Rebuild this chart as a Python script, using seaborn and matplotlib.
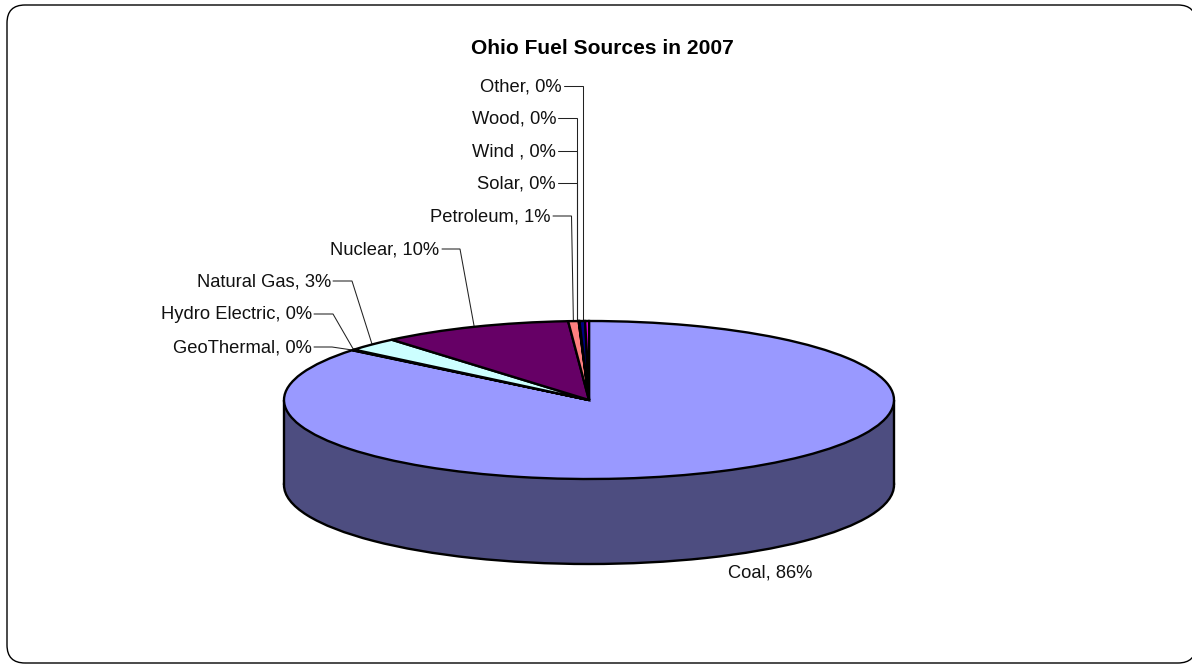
import numpy as np
import matplotlib
matplotlib.use("Agg")
import matplotlib.pyplot as plt
from matplotlib.patches import FancyBboxPatch, PathPatch, Rectangle
from matplotlib.path import Path
from matplotlib.transforms import IdentityTransform
import seaborn as sns

# ---- data ----
title = "Ohio Fuel Sources in 2007"
sources = ["Coal", "GeoThermal", "Hydro Electric", "Natural Gas", "Nuclear",
           "Petroleum", "Solar", "Wind ", "Wood", "Other"]
shares = [85.85, 0.08, 0.08, 2.8, 10.1, 0.55, 0.02, 0.02, 0.3, 0.2]
slice_colors = ["#9999FF", "#993366", "#FFFFCC", "#CCFFFF", "#660066",
                "#FF8080", "#0066CC", "#CCCCFF", "#000080", "#FF00FF"]
side_color = "#4D4D80"

# ---- layout (pixels of the 1192x665 picture) ----
W, H = 1192, 665
CX, CY, RX, RY, DEPTH = 589, 400, 305, 79, 85
# source -> (label right end, label y, start of leader, elbow x)
label_layout = {
    "Coal": (812, 572, None, None),
    "GeoThermal": (312, 347, 314, 332),
    "Hydro Electric": (312, 314, 314, 333),
    "Natural Gas": (331, 281, 333, 352),
    "Nuclear": (439, 249, 442, 460),
    "Petroleum": (550, 216, 553, 571.5),
    "Solar": (556, 183, 558, 577),
    "Wind ": (556, 151, 558, 577),
    "Wood": (556, 118, 558, 577),
    "Other": (562, 86, 564, 582.5),
}
straight_leaders = {"Solar", "Wind ", "Wood", "Other"}

sns.set_theme(style="white")
plt.rcParams["font.family"] = ["Liberation Sans", "DejaVu Sans"]
palette = sns.color_palette(slice_colors)

fig = plt.figure(figsize=(W / 100, H / 100), dpi=100, facecolor="white")
ax = fig.add_axes([0, 0, 1, 1])


def px(x, y):
    return (x - CX) / RX, (CY - y) / RY


depth = DEPTH / RY
edge = dict(edgecolor="black", linewidth=1.7)

# extruded body: lower full disc plus the wall between both rims
total = sum(shares)
ax.pie([total], colors=[side_color], startangle=90, counterclock=False,
       center=(0, -depth), wedgeprops=dict(zorder=1, **edge))
ax.add_patch(Rectangle((-1, -depth), 2, depth, facecolor=side_color, edgecolor="none", zorder=1.5))
ax.vlines([-1, 1], -depth, 0, color="black", linewidth=1.7, zorder=1.6)

# top face
wedges, _ = ax.pie(shares, colors=palette, startangle=90, counterclock=False,
                   center=(0, 0), wedgeprops=dict(zorder=3, **edge))

ax.set_aspect("auto")
ax.set_xlim(px(0, 0)[0], px(W, 0)[0])
ax.set_ylim(px(0, H)[1], px(0, 0)[1])
ax.axis("off")

# labels with leader lines anchored on each slice's rim
for name, value, wedge in zip(sources, shares, wedges):
    tx, ty, lx, ex = label_layout[name]
    ax.text(*px(tx, ty + 0.7), f"{name}, {value / total * 100:.0f}%", ha="right", va="center",
            fontsize=13.2, color="#111111", zorder=5)
    if lx is None:
        continue
    x0, y0 = px(lx, ty)
    x1, y1 = px(ex, ty)
    if name in straight_leaders:
        end_x, end_y = x1, np.sqrt(1 - x1 ** 2)
    else:
        mid = np.deg2rad((wedge.theta1 + wedge.theta2) / 2)
        end_x, end_y = np.cos(mid), np.sin(mid)
    ax.plot([x0, x1, end_x], [y0, y1, end_y], color="#222222", linewidth=0.75, zorder=2,
            solid_joinstyle="miter")

fig.text(602 / W, 1 - 49 / H, title, ha="center", va="center", fontsize=15.1,
         fontweight="bold", color="black")

# the frame runs past the right edge of the picture, as in the reference;
# flattened to a polyline so that the renderer clips its corners cleanly
box = FancyBboxPatch((7, 2), 1189, 658, boxstyle="round,pad=0,rounding_size=18")
outline = box.get_path().to_polygons(closed_only=False)[0]
fig.add_artist(PathPatch(Path(outline), transform=IdentityTransform(), facecolor="none",
                         edgecolor="black", linewidth=1.0))

fig.savefig("out.png", dpi=100, facecolor="white")
